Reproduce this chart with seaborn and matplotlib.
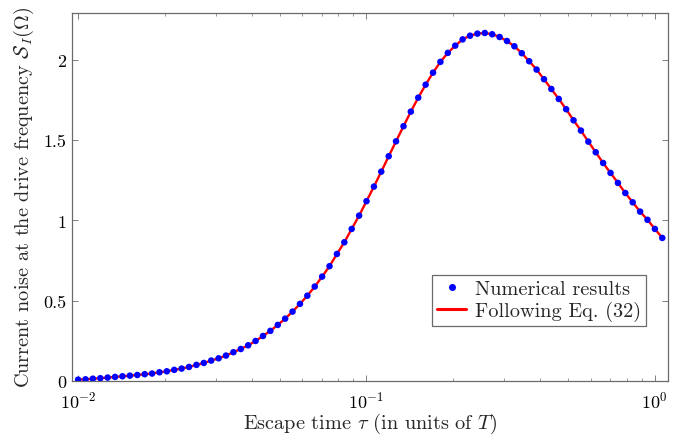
import numpy as np
import pandas as pd
import matplotlib
matplotlib.use("Agg")
import matplotlib.pyplot as plt
import seaborn as sns
from matplotlib.lines import Line2D
from matplotlib.ticker import FixedLocator, FixedFormatter

# ── Data ──────────────────────────────────────────────────────────────────────
tau = [
    0.01000, 0.01061, 0.01125, 0.01194, 0.01266, 0.01343, 0.01425, 0.01512, 0.01604, 0.01702,
    0.01805, 0.01915, 0.02031, 0.02155, 0.02286, 0.02425, 0.02573, 0.02729, 0.02895, 0.03071,
    0.03258, 0.03457, 0.03667, 0.03890, 0.04127, 0.04378, 0.04644, 0.04927, 0.05226, 0.05544,
    0.05882, 0.06239, 0.06619, 0.07022, 0.07449, 0.07902, 0.08383, 0.08893, 0.09434, 0.10008,
    0.1062, 0.1126, 0.1195, 0.1267, 0.1345, 0.1426, 0.1513, 0.1605, 0.1703, 0.1806,
    0.1916, 0.2033, 0.2157, 0.2288, 0.2427, 0.2575, 0.2731, 0.2898, 0.3074, 0.3261,
    0.3459, 0.3670, 0.3893, 0.4130, 0.4381, 0.4648, 0.4930, 0.5230, 0.5548, 0.5886,
    0.6244, 0.6624, 0.7027, 0.7455, 0.7908, 0.8389, 0.8900, 0.9441, 1.0015, 1.0625,
]
noise_numerical = [
    0.008, 0.010, 0.014, 0.017, 0.021, 0.025, 0.029, 0.033, 0.037, 0.042,
    0.046, 0.054, 0.060, 0.069, 0.077, 0.087, 0.100, 0.112, 0.127, 0.141,
    0.158, 0.179, 0.199, 0.222, 0.249, 0.280, 0.312, 0.349, 0.388, 0.432,
    0.480, 0.531, 0.588, 0.650, 0.715, 0.791, 0.864, 0.947, 1.030, 1.120,
    1.211, 1.304, 1.400, 1.493, 1.587, 1.678, 1.765, 1.846, 1.921, 1.988,
    2.044, 2.089, 2.128, 2.151, 2.164, 2.168, 2.160, 2.143, 2.118, 2.085,
    2.042, 1.992, 1.940, 1.880, 1.819, 1.757, 1.693, 1.624, 1.560, 1.491,
    1.425, 1.358, 1.296, 1.234, 1.171, 1.113, 1.055, 1.004, 0.947, 0.891,
]
noise_eq32 = list(noise_numerical)

y_ticks = [0, 0.5, 1, 1.5, 2]
y_tick_labels = ["0", "0.5", "1", "1.5", "2"]

label_points = "Numerical results"
label_line = "Following Eq. (32)"

# ── Style ─────────────────────────────────────────────────────────────────────
sns.set_style("ticks")
plt.rcParams["font.family"] = ["cmr10", "DejaVu Serif"]
plt.rcParams["mathtext.fontset"] = "cm"
plt.rcParams["axes.formatter.use_mathtext"] = True
plt.rcParams["axes.unicode_minus"] = False

AXIS_GRAY = "#6a6a6a"
FS_LABEL = 14.6
FS_TICK = 13
FS_LEGEND = 14.6

df = pd.DataFrame({"tau": tau, "num": noise_numerical, "eq": noise_eq32})

fig = plt.figure(figsize=(6.8, 4.35), dpi=100)
ax = fig.add_axes([0.106, 0.122, 0.876, 0.846])

sns.lineplot(data=df, x="tau", y="eq", color="red", linewidth=1.7, ax=ax, zorder=2)
sns.scatterplot(data=df, x="tau", y="num", color="blue", s=22, edgecolor="none",
                linewidth=0, ax=ax, zorder=3)

ax.set_xscale("log")
ax.set_xlim(0.00953, 1.11)
ax.set_ylim(0, 2.293)

ax.yaxis.set_major_locator(FixedLocator(y_ticks))
ax.yaxis.set_major_formatter(FixedFormatter(y_tick_labels))

ax.tick_params(axis="both", which="both", direction="in", top=True, right=True,
               colors=AXIS_GRAY, labelcolor="black", labelsize=FS_TICK)
ax.tick_params(axis="both", which="major", length=4, width=0.6)
ax.tick_params(axis="both", which="minor", length=2.5, width=0.5)
ax.tick_params(axis="x", which="major", pad=6.5)
ax.tick_params(axis="y", which="major", pad=4)
for sp in ax.spines.values():
    sp.set_color(AXIS_GRAY)
    sp.set_linewidth(0.9)

ax.set_xlabel(r"Escape time $\tau$ (in units of $T$)", fontsize=FS_LABEL, labelpad=0)
ax.set_ylabel(r"Current noise at the drive frequency $\mathcal{S}_I(\Omega)$",
              fontsize=FS_LABEL, labelpad=5)

handles = [
    Line2D([], [], marker="o", color="blue", linestyle="none", markersize=4),
    Line2D([], [], color="red", linewidth=2.2),
]
leg = ax.legend(handles, [label_points, label_line], loc="lower right",
                bbox_to_anchor=(0.963, 0.149), borderaxespad=0, fontsize=FS_LEGEND,
                fancybox=False, framealpha=1, edgecolor=AXIS_GRAY,
                handlelength=1.45, handletextpad=0.4, borderpad=0.25, labelspacing=0.15)
leg.get_frame().set_linewidth(0.9)

fig.savefig("out.png", dpi=100)
